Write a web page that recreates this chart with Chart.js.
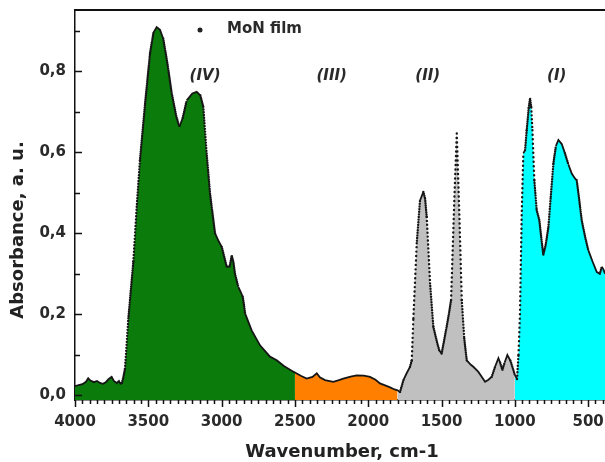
<!DOCTYPE html>
<html>
<head>
<meta charset="utf-8">
<title>MoN film – IR absorbance</title>
<script src="https://cdn.jsdelivr.net/npm/chart.js@4.4.1/dist/chart.umd.min.js"></script>
<style>
  html, body { margin: 0; padding: 0; background: #fff; }
</style>
</head>
<body>
<canvas id="spectrum" width="605" height="462"></canvas>
<script>
// Spectrum samples, cm-1 (descending) and absorbance, a.u.
const wavenumber = [
  4000, 3975, 3950, 3925, 3910, 3895, 3870, 3850, 3830, 3810, 3790, 3770, 3750, 3735, 3715, 3700,
  3690, 3680, 3670, 3659, 3636, 3602, 3579, 3557, 3522, 3488, 3465, 3443, 3420, 3398, 3370, 3340,
  3310, 3288, 3265, 3238, 3200, 3170, 3145, 3125, 3102, 3079, 3045, 3020, 2999, 2965, 2945, 2931,
  2920, 2909, 2886, 2870, 2856, 2848, 2840, 2795, 2738, 2670, 2624, 2575, 2511, 2500,
  2460, 2420, 2380, 2351, 2330, 2295, 2238, 2200, 2170, 2120, 2079, 2030, 1988, 1950, 1920, 1885,
  1851, 1820, 1800,
  1783, 1760, 1738, 1715, 1703, 1692, 1669, 1647, 1624, 1612, 1601, 1578, 1556, 1530, 1515, 1499,
  1485, 1465, 1450, 1435, 1413, 1396, 1378, 1362, 1345, 1328, 1300, 1283, 1250, 1225, 1203, 1180,
  1158, 1135, 1112, 1100, 1085, 1070, 1051, 1030, 1010, 1000,
  985, 975, 965, 953, 942, 930, 919, 905, 896, 888, 880, 867, 851, 833, 820, 806,
  790, 771, 755, 737, 720, 703, 680, 658, 635, 612, 590, 578, 560, 544, 520, 499,
  470, 441, 420, 407, 395, 385
];
const absorbance = [
  0.022, 0.025, 0.027, 0.033, 0.042, 0.036, 0.032, 0.035, 0.030, 0.028, 0.032, 0.040, 0.045, 0.035, 0.030, 0.035,
  0.028, 0.030, 0.045, 0.065, 0.190, 0.330, 0.465, 0.580, 0.720, 0.845, 0.895, 0.909, 0.902, 0.880, 0.820, 0.745,
  0.690, 0.662, 0.685, 0.728, 0.745, 0.749, 0.740, 0.712, 0.597, 0.498, 0.400, 0.380, 0.366, 0.317, 0.318, 0.345,
  0.330, 0.300, 0.267, 0.255, 0.243, 0.225, 0.202, 0.160, 0.123, 0.095, 0.086, 0.072, 0.058, 0.056,
  0.048, 0.041, 0.045, 0.054, 0.044, 0.037, 0.033, 0.037, 0.041, 0.046, 0.049, 0.048, 0.045, 0.038, 0.029, 0.024,
  0.019, 0.014, 0.012,
  0.008, 0.037, 0.054, 0.070, 0.086, 0.190, 0.375, 0.480, 0.502, 0.485, 0.440, 0.276, 0.169, 0.130, 0.110, 0.103,
  0.130, 0.169, 0.200, 0.235, 0.480, 0.646, 0.440, 0.235, 0.140, 0.086, 0.075, 0.070, 0.058, 0.045, 0.033, 0.038,
  0.045, 0.070, 0.091, 0.080, 0.062, 0.080, 0.099, 0.085, 0.062, 0.050,
  0.040, 0.100, 0.200, 0.449, 0.597, 0.605, 0.654, 0.710, 0.733, 0.710, 0.654, 0.530, 0.457, 0.432, 0.390, 0.346,
  0.370, 0.415, 0.490, 0.572, 0.615, 0.630, 0.620, 0.597, 0.570, 0.547, 0.535, 0.531, 0.480, 0.432, 0.390, 0.358,
  0.330, 0.304, 0.300, 0.317, 0.310, 0.300
];

// Spectral regions: edges in cm-1 and their names
const regionEdges = [4000, 2500, 1800, 1000, 385];
const regionNames = ['(IV)', '(III)', '(II)', '(I)'];
const regionLabelAt = [3113, 2249, 1594, 714];

const regionColors = ['#0b7c0b', '#ff8000', '#c0c0c0', '#00ffff'];
const FONT = '"DejaVu Sans", "Liberation Sans", Arial, sans-serif';
const INK = '#2a2a2a';

const points = wavenumber.map((w, i) => ({ x: w, y: absorbance[i] }));

function regionPoints(hi, lo) {
  return points.filter(p => p.x <= hi && p.x >= lo);
}

// pixel steepness of one line segment
function steepness(ctx) {
  const dx = Math.abs(ctx.p1.x - ctx.p0.x) || 0.01;
  return Math.abs(ctx.p1.y - ctx.p0.y) / dx;
}

// on steep stretches the samples spread apart and show up as dots
function dotGap(ctx) {
  const s = steepness(ctx);
  if (s <= 3) return undefined;
  return [0, Math.min(4.5, Math.max(2, s / 5))];
}

const regionSets = regionNames.map((name, i) => ({
  label: name,
  data: regionPoints(regionEdges[i], regionEdges[i + 1]),
  borderColor: 'transparent',
  borderWidth: 0,
  pointRadius: 0,
  backgroundColor: regionColors[i],
  fill: 'start',
  tension: 0
}));

const decorations = {
  id: 'decorations',
  afterDraw(chart) {
    const { ctx, chartArea: area, scales: { x, y } } = chart;
    ctx.save();
    ctx.strokeStyle = '#111';
    ctx.lineWidth = 1.5;
    ctx.beginPath();
    // x ticks point down, every 500 longer
    x.ticks.forEach(t => {
      const px = Math.round(x.getPixelForValue(t.value)) + 0.5;
      const len = t.value % 500 === 0 ? 7 : 4;
      ctx.moveTo(px, area.bottom);
      ctx.lineTo(px, area.bottom + len);
    });
    // y ticks point into the plot
    y.ticks.forEach(t => {
      const py = Math.round(y.getPixelForValue(t.value)) + 0.5;
      const len = Math.round(t.value * 10) % 2 === 0 ? 7 : 5;
      ctx.moveTo(area.left, py);
      ctx.lineTo(area.left + len, py);
    });
    ctx.stroke();

    // top frame line
    ctx.lineWidth = 2;
    ctx.beginPath();
    ctx.moveTo(area.left, area.top);
    ctx.lineTo(area.right, area.top);
    ctx.stroke();

    // legend
    ctx.fillStyle = '#222';
    ctx.beginPath();
    ctx.arc(area.left + 125, area.top + 20, 2.5, 0, Math.PI * 2);
    ctx.fill();
    ctx.fillStyle = INK;
    ctx.font = 'bold 15px ' + FONT;
    ctx.textAlign = 'left';
    ctx.textBaseline = 'middle';
    ctx.fillText('MoN film', area.left + 152, area.top + 19);

    // region names
    ctx.font = 'italic bold 15px ' + FONT;
    ctx.textAlign = 'center';
    regionNames.forEach((name, i) => {
      ctx.fillText(name, x.getPixelForValue(regionLabelAt[i]), y.getPixelForValue(0.788));
    });

    // axis titles
    ctx.fillStyle = '#222';
    ctx.font = 'bold 18px ' + FONT;
    ctx.fillText('Wavenumber, cm-1', (area.left + area.right) / 2 + 2, 452);
    ctx.translate(18, 230);
    ctx.rotate(-Math.PI / 2);
    ctx.fillText('Absorbance, a. u.', 0, 0);
    ctx.restore();
  }
};

new Chart(document.getElementById('spectrum'), {
  type: 'line',
  data: {
    datasets: [{
      label: 'MoN film',
      data: points,
      borderColor: '#161616',
      borderWidth: 1.8,
      pointRadius: 0,
      fill: false,
      tension: 0,
      segment: {
        borderDash: ctx => dotGap(ctx),
        borderWidth: ctx => steepness(ctx) > 3 ? 2.4 : undefined,
        borderCapStyle: ctx => steepness(ctx) > 3 ? 'round' : undefined
      }
    }, ...regionSets]
  },
  options: {
    responsive: false,
    animation: false,
    layout: { padding: { top: 10, right: 0, left: 0, bottom: 0 } },
    plugins: { legend: { display: false }, tooltip: { enabled: false } },
    scales: {
      x: {
        type: 'linear',
        reverse: true,
        min: 385,
        max: 4000,
        z: 1,
        afterFit: s => { s.height = 62; },
        // tick marks are drawn by the plugin; tickLength only spaces the labels
        grid: { display: false, drawTicks: true, tickLength: 13 },
        border: { display: true, color: '#111', width: 1.5 },
        ticks: {
          stepSize: 50,
          includeBounds: false,
          autoSkip: false,
          maxRotation: 0,
          padding: 0,
          color: INK,
          font: { family: FONT, size: 15, weight: 'bold' },
          callback: v => v % 500 === 0 ? String(v) : ''
        }
      },
      y: {
        min: -0.012,
        max: 0.951,
        z: 1,
        afterFit: s => { s.width = 75; },
        grid: { display: false, drawTicks: true, tickLength: 9 },
        border: { display: true, color: '#111', width: 1.5 },
        ticks: {
          stepSize: 0.1,
          includeBounds: false,
          autoSkip: false,
          padding: 0,
          color: INK,
          font: { family: FONT, size: 15, weight: 'bold' },
          callback: v => Math.round(v * 10) % 2 === 0 ? v.toFixed(1).replace('.', ',') : ''
        }
      }
    }
  },
  plugins: [decorations]
});
</script>
</body>
</html>
